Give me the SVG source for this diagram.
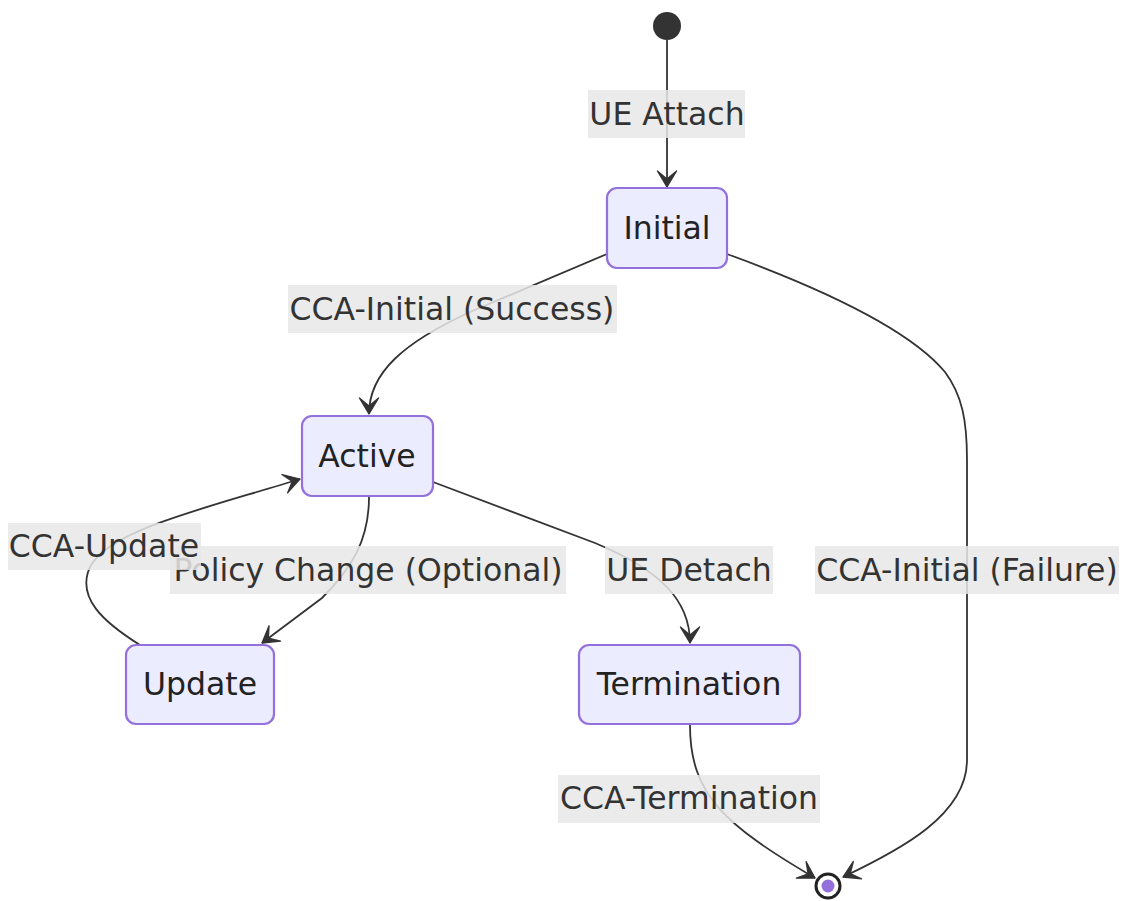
<svg xmlns="http://www.w3.org/2000/svg" width="1123" height="901" viewBox="0 0 1123 901">
<style>
.node rect{fill:#ECECFF;stroke:#9370DB;stroke-width:2.2}
.node text{font-family:"DejaVu Sans",Verdana,sans-serif;font-size:31.5px;fill:#222;text-anchor:middle;dominant-baseline:central}
.edge{fill:none;stroke:#333;stroke-width:1.8}
.lbl rect{fill:#e8e8e8;opacity:0.85}
.lbl text{font-family:"DejaVu Sans",Verdana,sans-serif;font-size:31.5px;fill:#333;text-anchor:middle;dominant-baseline:central}
</style>
<defs>
<marker id="arr" viewBox="0 0 20 14" refX="19" refY="7" markerWidth="32" markerHeight="22.4" markerUnits="userSpaceOnUse" orient="auto">
<path d="M19,7 L9,13 L14,7 L9,1 Z" fill="#333" stroke="#333" stroke-width="0.8" stroke-linejoin="round"/>
</marker>
</defs>
<rect width="1123" height="901" fill="#fff"/>
<g id="connectors">
<path class="edge" d="M667,40 L667,187" marker-end="url(#arr)"/>
<path class="edge" d="M607,254 L470,312 C405,342 369,372 369,414" marker-end="url(#arr)"/>
<path class="edge" d="M727,254 C820,288 910,330 945,372 C962,395 967,420 967,460 L967,760 C967,815 900,850 843,877" marker-end="url(#arr)"/>
<path class="edge" d="M369,497 C369,540 352,568 322,598 L262,643" marker-end="url(#arr)"/>
<path class="edge" d="M140,645 C100,620 80,598 88,572 C100,532 200,510 300,479" marker-end="url(#arr)"/>
<path class="edge" d="M433,482 L595,543 C660,570 690,600 690,643" marker-end="url(#arr)"/>
<path class="edge" d="M690,725 C690,795 725,825 815,878" marker-end="url(#arr)"/>
</g>
<g id="labels">
<g class="lbl"><rect x="588" y="90" width="157" height="48"/><text x="667" y="114">UE Attach</text></g>
<g class="lbl"><rect x="288" y="285" width="329" height="48"/><text x="452" y="309">CCA-Initial (Success)</text></g>
<g class="lbl"><rect x="815" y="546" width="304" height="48"/><text x="967" y="570">CCA-Initial (Failure)</text></g>
<g class="lbl"><rect x="170" y="546" width="396" height="48"/><text x="368" y="570">Policy Change (Optional)</text></g>
<g class="lbl"><rect x="8" y="523" width="193" height="47"/><text x="104" y="546">CCA-Update</text></g>
<g class="lbl"><rect x="605" y="546" width="168" height="48"/><text x="689" y="570">UE Detach</text></g>
<g class="lbl"><rect x="558" y="775" width="262" height="48"/><text x="689" y="798">CCA-Termination</text></g>
</g>
<g id="start"><circle cx="667" cy="26" r="14" fill="#333"/></g>
<g id="Initial" class="node"><rect x="607" y="188" width="120" height="80" rx="10"/><text x="667" y="228">Initial</text></g>
<g id="Active" class="node"><rect x="302" y="416" width="131" height="80" rx="10"/><text x="367" y="456">Active</text></g>
<g id="Update" class="node"><rect x="126" y="645" width="148" height="79" rx="10"/><text x="200" y="684">Update</text></g>
<g id="Termination" class="node"><rect x="579" y="645" width="221" height="79" rx="10"/><text x="689" y="684">Termination</text></g>
<g id="end"><circle cx="828" cy="886" r="12" fill="#fff" stroke="#222" stroke-width="3"/><circle cx="828" cy="886" r="6.5" fill="#9370DB"/></g>
</svg>
